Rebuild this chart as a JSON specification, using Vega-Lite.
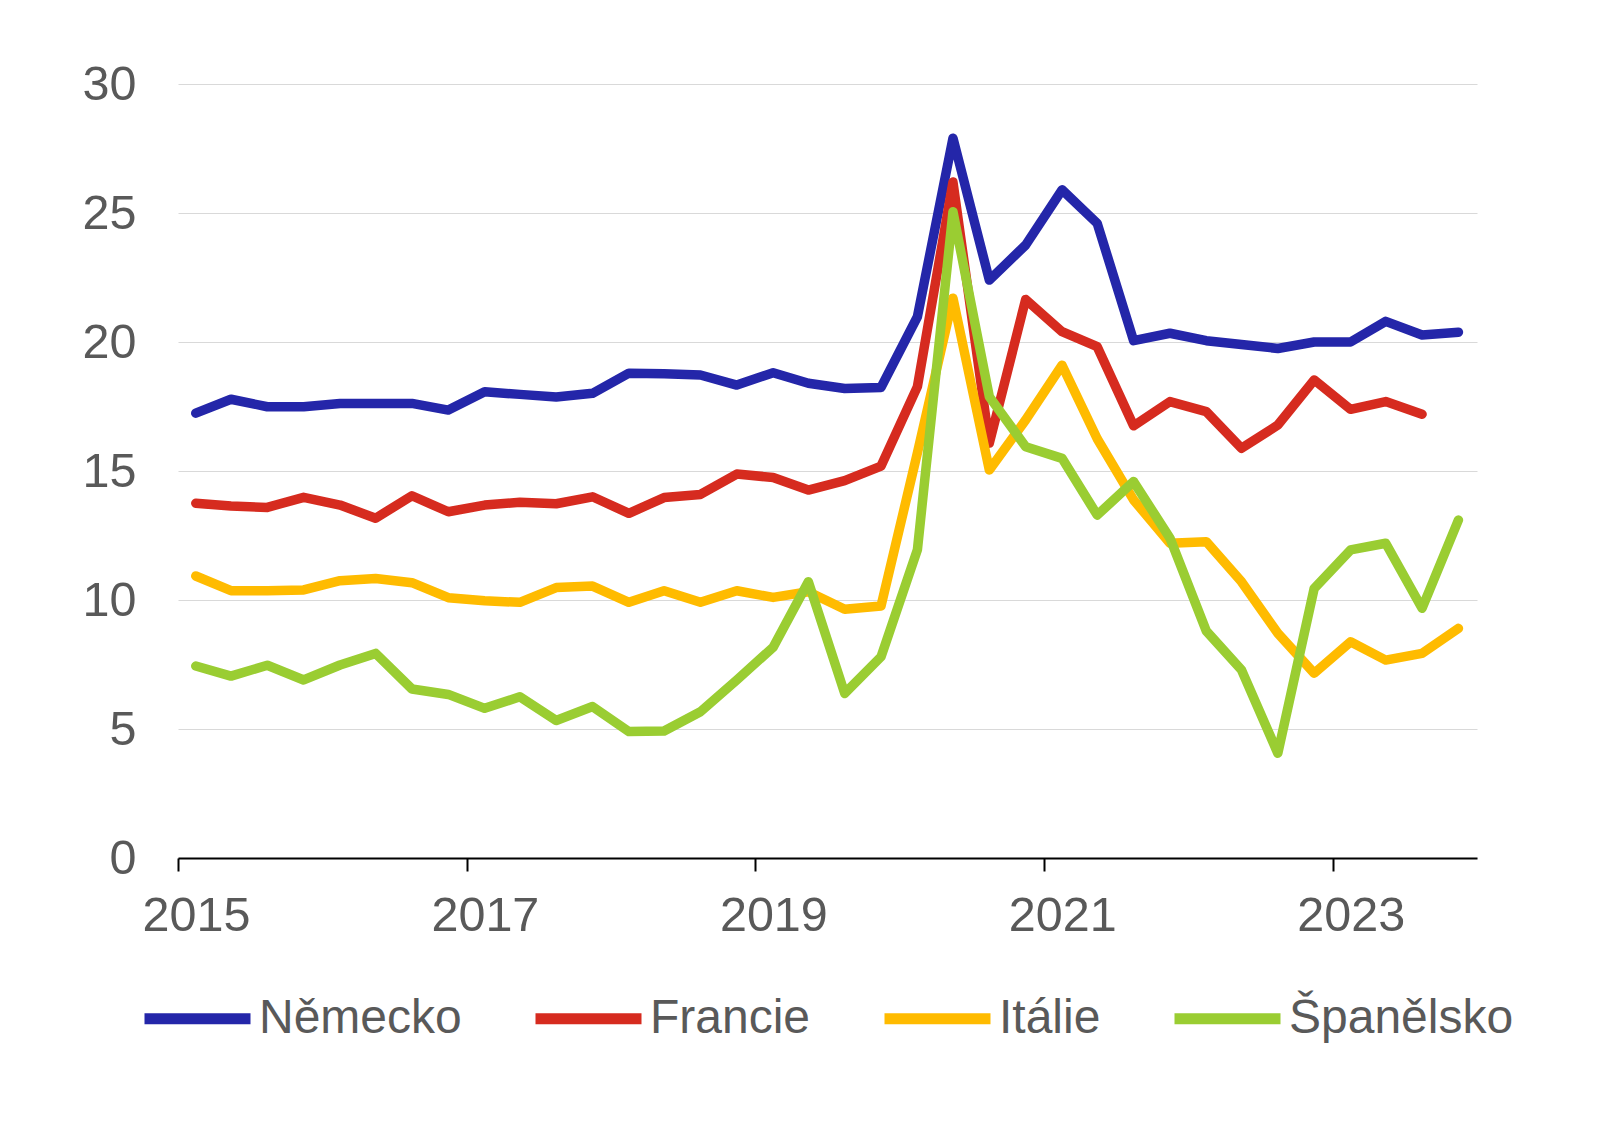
{
"$schema": "https://vega.github.io/schema/vega-lite/v6.json",
"width": 1299, "height": 774,
"autosize": "none",
"padding": {"left": 178, "top": 84, "right": 139, "bottom": 267},
"background": "white",
"datasets": {"d": [
{"c":"Německo","d":"2015-02-15","v":17.24},{"c":"Německo","d":"2015-05-15","v":17.78},{"c":"Německo","d":"2015-08-15","v":17.49},{"c":"Německo","d":"2015-11-15","v":17.49},
{"c":"Německo","d":"2016-02-15","v":17.62},{"c":"Německo","d":"2016-05-15","v":17.62},{"c":"Německo","d":"2016-08-15","v":17.62},{"c":"Německo","d":"2016-11-15","v":17.36},
{"c":"Německo","d":"2017-02-15","v":18.07},{"c":"Německo","d":"2017-05-15","v":17.97},{"c":"Německo","d":"2017-08-15","v":17.87},{"c":"Německo","d":"2017-11-15","v":18.01},
{"c":"Německo","d":"2018-02-15","v":18.79},{"c":"Německo","d":"2018-05-15","v":18.77},{"c":"Německo","d":"2018-08-15","v":18.72},{"c":"Německo","d":"2018-11-15","v":18.33},
{"c":"Německo","d":"2019-02-15","v":18.81},{"c":"Německo","d":"2019-05-15","v":18.40},{"c":"Německo","d":"2019-08-15","v":18.2},{"c":"Německo","d":"2019-11-15","v":18.24},
{"c":"Německo","d":"2020-02-15","v":20.98},{"c":"Německo","d":"2020-05-15","v":27.9},{"c":"Německo","d":"2020-08-15","v":22.4},{"c":"Německo","d":"2020-11-15","v":23.76},
{"c":"Německo","d":"2021-02-15","v":25.9},{"c":"Německo","d":"2021-05-15","v":24.6},{"c":"Německo","d":"2021-08-15","v":20.05},{"c":"Německo","d":"2021-11-15","v":20.34},
{"c":"Německo","d":"2022-02-15","v":20.05},{"c":"Německo","d":"2022-05-15","v":19.9},{"c":"Německo","d":"2022-08-15","v":19.75},{"c":"Německo","d":"2022-11-15","v":20.0},
{"c":"Německo","d":"2023-02-15","v":20.0},{"c":"Německo","d":"2023-05-15","v":20.8},{"c":"Německo","d":"2023-08-15","v":20.27},{"c":"Německo","d":"2023-11-15","v":20.38},
{"c":"Francie","d":"2015-02-15","v":13.75},{"c":"Francie","d":"2015-05-15","v":13.64},{"c":"Francie","d":"2015-08-15","v":13.59},{"c":"Francie","d":"2015-11-15","v":13.98},
{"c":"Francie","d":"2016-02-15","v":13.68},{"c":"Francie","d":"2016-05-15","v":13.17},{"c":"Francie","d":"2016-08-15","v":14.04},{"c":"Francie","d":"2016-11-15","v":13.42},
{"c":"Francie","d":"2017-02-15","v":13.68},{"c":"Francie","d":"2017-05-15","v":13.79},{"c":"Francie","d":"2017-08-15","v":13.73},{"c":"Francie","d":"2017-11-15","v":14.0},
{"c":"Francie","d":"2018-02-15","v":13.36},{"c":"Francie","d":"2018-05-15","v":13.97},{"c":"Francie","d":"2018-08-15","v":14.09},{"c":"Francie","d":"2018-11-15","v":14.88},
{"c":"Francie","d":"2019-02-15","v":14.75},{"c":"Francie","d":"2019-05-15","v":14.26},{"c":"Francie","d":"2019-08-15","v":14.63},{"c":"Francie","d":"2019-11-15","v":15.19},
{"c":"Francie","d":"2020-02-15","v":18.27},{"c":"Francie","d":"2020-05-15","v":26.2},{"c":"Francie","d":"2020-08-15","v":16.08},{"c":"Francie","d":"2020-11-15","v":21.65},
{"c":"Francie","d":"2021-02-15","v":20.4},{"c":"Francie","d":"2021-05-15","v":19.82},{"c":"Francie","d":"2021-08-15","v":16.75},{"c":"Francie","d":"2021-11-15","v":17.69},
{"c":"Francie","d":"2022-02-15","v":17.3},{"c":"Francie","d":"2022-05-15","v":15.88},{"c":"Francie","d":"2022-08-15","v":16.78},{"c":"Francie","d":"2022-11-15","v":18.53},
{"c":"Francie","d":"2023-02-15","v":17.39},{"c":"Francie","d":"2023-05-15","v":17.69},{"c":"Francie","d":"2023-08-15","v":17.2},
{"c":"Itálie","d":"2015-02-15","v":10.93},{"c":"Itálie","d":"2015-05-15","v":10.36},{"c":"Itálie","d":"2015-08-15","v":10.36},{"c":"Itálie","d":"2015-11-15","v":10.39},
{"c":"Itálie","d":"2016-02-15","v":10.75},{"c":"Itálie","d":"2016-05-15","v":10.83},{"c":"Itálie","d":"2016-08-15","v":10.67},{"c":"Itálie","d":"2016-11-15","v":10.09},
{"c":"Itálie","d":"2017-02-15","v":9.97},{"c":"Itálie","d":"2017-05-15","v":9.91},{"c":"Itálie","d":"2017-08-15","v":10.48},{"c":"Itálie","d":"2017-11-15","v":10.54},
{"c":"Itálie","d":"2018-02-15","v":9.91},{"c":"Itálie","d":"2018-05-15","v":10.36},{"c":"Itálie","d":"2018-08-15","v":9.91},{"c":"Itálie","d":"2018-11-15","v":10.36},
{"c":"Itálie","d":"2019-02-15","v":10.1},{"c":"Itálie","d":"2019-05-15","v":10.32},{"c":"Itálie","d":"2019-08-15","v":9.64},{"c":"Itálie","d":"2019-11-15","v":9.77},
{"c":"Itálie","d":"2020-02-15","v":15.7},{"c":"Itálie","d":"2020-05-15","v":21.7},{"c":"Itálie","d":"2020-08-15","v":15.04},{"c":"Itálie","d":"2020-11-15","v":16.98},
{"c":"Itálie","d":"2021-02-15","v":19.1},{"c":"Itálie","d":"2021-05-15","v":16.25},{"c":"Itálie","d":"2021-08-15","v":13.88},{"c":"Itálie","d":"2021-11-15","v":12.2},
{"c":"Itálie","d":"2022-02-15","v":12.26},{"c":"Itálie","d":"2022-05-15","v":10.71},{"c":"Itálie","d":"2022-08-15","v":8.71},{"c":"Itálie","d":"2022-11-15","v":7.16},
{"c":"Itálie","d":"2023-02-15","v":8.38},{"c":"Itálie","d":"2023-05-15","v":7.67},{"c":"Itálie","d":"2023-08-15","v":7.93},{"c":"Itálie","d":"2023-11-15","v":8.9},
{"c":"Španělsko","d":"2015-02-15","v":7.44},{"c":"Španělsko","d":"2015-05-15","v":7.05},{"c":"Španělsko","d":"2015-08-15","v":7.47},{"c":"Španělsko","d":"2015-11-15","v":6.9},
{"c":"Španělsko","d":"2016-02-15","v":7.48},{"c":"Španělsko","d":"2016-05-15","v":7.93},{"c":"Španělsko","d":"2016-08-15","v":6.55},{"c":"Španělsko","d":"2016-11-15","v":6.34},
{"c":"Španělsko","d":"2017-02-15","v":5.8},{"c":"Španělsko","d":"2017-05-15","v":6.25},{"c":"Španělsko","d":"2017-08-15","v":5.33},{"c":"Španělsko","d":"2017-11-15","v":5.87},
{"c":"Španělsko","d":"2018-02-15","v":4.9},{"c":"Španělsko","d":"2018-05-15","v":4.92},{"c":"Španělsko","d":"2018-08-15","v":5.67},{"c":"Španělsko","d":"2018-11-15","v":6.9},
{"c":"Španělsko","d":"2019-02-15","v":8.17},{"c":"Španělsko","d":"2019-05-15","v":10.71},{"c":"Španělsko","d":"2019-08-15","v":6.38},{"c":"Španělsko","d":"2019-11-15","v":7.8},
{"c":"Španělsko","d":"2020-02-15","v":11.95},{"c":"Španělsko","d":"2020-05-15","v":25.05},{"c":"Španělsko","d":"2020-08-15","v":17.88},{"c":"Španělsko","d":"2020-11-15","v":15.94},
{"c":"Španělsko","d":"2021-02-15","v":15.49},{"c":"Španělsko","d":"2021-05-15","v":13.29},{"c":"Španělsko","d":"2021-08-15","v":14.59},{"c":"Španělsko","d":"2021-11-15","v":12.4},
{"c":"Španělsko","d":"2022-02-15","v":8.8},{"c":"Španělsko","d":"2022-05-15","v":7.29},{"c":"Španělsko","d":"2022-08-15","v":4.06},{"c":"Španělsko","d":"2022-11-15","v":10.45},
{"c":"Španělsko","d":"2023-02-15","v":11.94},{"c":"Španělsko","d":"2023-05-15","v":12.2},{"c":"Španělsko","d":"2023-08-15","v":9.68},{"c":"Španělsko","d":"2023-11-15","v":13.1}
]},
"data": {"name": "d"},
"mark": {"type": "line", "strokeWidth": 9.5, "strokeCap": "round", "strokeJoin": "round"},
"encoding": {
  "x": {"field": "d", "type": "temporal",
    "scale": {"type": "utc", "domain": [{"year": 2015, "month": 1, "date": 1, "utc": true}, {"year": 2024, "month": 1, "date": 1, "utc": true}]},
    "axis": {"title": null, "values": [{"year": 2015, "month": 1, "date": 1, "utc": true}, {"year": 2017, "month": 1, "date": 1, "utc": true}, {"year": 2019, "month": 1, "date": 1, "utc": true}, {"year": 2021, "month": 1, "date": 1, "utc": true}, {"year": 2023, "month": 1, "date": 1, "utc": true}],
      "format": "%Y", "grid": false, "domainColor": "#000000", "domainWidth": 2, "tickColor": "#000000", "tickWidth": 2, "tickSize": 13,
      "labelFont": "Liberation Sans", "labelFontSize": 48.5, "labelColor": "#595959", "labelOffset": 18, "labelPadding": 21, "labelFlush": false, "labelOverlap": false}},
  "y": {"field": "v", "type": "quantitative", "scale": {"domain": [0, 30]},
    "axis": {"title": null, "values": [0, 5, 10, 15, 20, 25, 30], "domain": false, "ticks": false, "grid": true, "gridColor": "#d9d9d9", "gridWidth": 1,
      "labelFont": "Liberation Sans", "labelFontSize": 48.5, "labelColor": "#595959", "labelPadding": 42}},
  "color": {"field": "c", "type": "nominal",
    "scale": {"domain": ["Německo", "Francie", "Itálie", "Španělsko"], "range": ["#2426a9", "#d62b1f", "#ffbb00", "#9acd32"]},
    "legend": {"title": null, "orient": "none", "legendX": -39, "legendY": 876, "direction": "horizontal", "columns": 4,
      "symbolType": "stroke", "symbolStrokeWidth": 11, "symbolSize": 11236, "labelFont": "Liberation Sans", "labelFontSize": 48, "labelColor": "#595959",
      "labelOffset": 3, "columnPadding": 51, "padding": 0, "labelLimit": 500}}
},
"config": {"view": {"stroke": null}}
}
